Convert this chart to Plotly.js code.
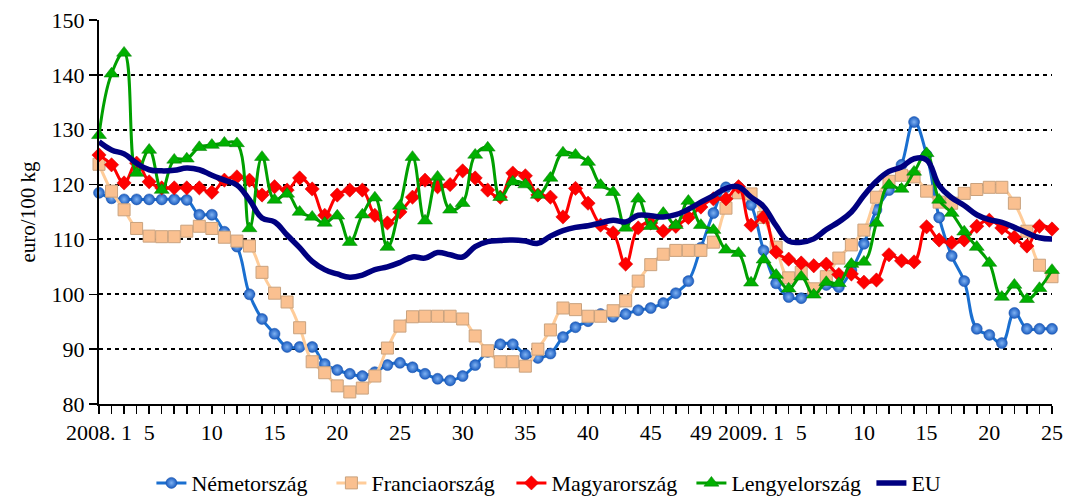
<!DOCTYPE html>
<html>
<head>
<meta charset="utf-8">
<script src="https://cdn.plot.ly/plotly-3.0.1.min.js"></script>
<style>
html,body{margin:0;padding:0;background:#fff;}
#chart{width:1072px;height:497px;}
</style>
</head>
<body>
<div id="chart"></div>
<script>
// Week labels: 2008 week 1..52, 2009 week 1..25 (blank = unlabeled week)
const weekLabels = [
 "2008. 1","","","","5","","","","","10","","","","","15","","","","","20",
 "","","","","25","","","","","30","","","","","35","","","","","40",
 "","","","","45","","","","49","","","",
 "2009. 1","","","","5","","","","","10","","","","","15","","","","","20",
 "","","","","25"
];

const nemetorszag = [
 118.5,117.5,117.3,117.3,117.3,117.3,117.3,117.2,114.5,114.5,
 111.4,108.7,100.0,95.5,92.8,90.4,90.4,90.4,87.3,86.2,
 85.5,85.1,85.8,87.1,87.5,86.7,85.5,84.6,84.3,85.1,
 87.1,89.5,90.9,90.9,89.0,88.4,89.2,92.2,94.0,95.1,
 96.4,95.9,96.4,97.1,97.5,98.4,100.2,102.4,108.5,114.8,
 119.5,119.5,116.3,108.0,102.0,99.5,99.3,100.8,101.7,101.3,
 104.4,109.2,115.4,119.0,123.6,131.4,125.4,114.0,107.0,102.4,
 93.7,92.6,91.1,96.6,93.7,93.7,93.7
];

const franciaorszag = [
 123.7,118.8,115.4,112.0,110.6,110.5,110.5,111.5,112.4,112.0,
 110.4,109.7,108.8,104.0,100.2,98.6,93.9,87.7,85.7,83.3,
 82.2,82.9,85.1,90.2,94.2,95.9,96.0,96.0,96.0,95.5,
 92.4,89.7,87.7,87.7,86.9,90.0,93.5,97.5,97.2,96.0,
 96.0,97.0,98.8,102.4,105.4,107.3,108.0,108.0,108.0,109.5,
 115.7,118.5,118.3,114.0,108.6,103.0,104.0,101.0,103.2,106.6,
 109.0,111.7,117.7,120.6,121.7,121.4,118.8,116.8,116.6,118.4,
 119.1,119.5,119.5,116.6,111.5,105.3,103.2
];

const magyarorszag = [
 125.4,123.6,120.3,123.9,120.5,119.4,119.4,119.4,119.4,118.6,
 120.8,121.4,120.8,118.1,119.6,119.0,121.2,119.2,114.4,118.1,
 119.0,119.0,114.4,113.0,115.0,117.7,120.8,119.6,120.0,122.5,
 121.2,119.0,117.7,122.1,121.6,118.1,117.7,114.1,119.3,116.6,
 112.6,111.2,105.5,112.1,113.0,111.5,112.4,114.0,115.9,117.4,
 117.4,119.6,112.6,114.1,107.7,106.4,105.7,105.2,105.5,103.6,
 103.7,102.2,102.6,107.2,106.1,105.9,112.3,109.9,109.4,109.9,
 112.4,113.5,112.1,110.4,108.8,112.4,111.9
];

const lengyelorszag = [
 129.0,140.2,144.0,122.1,126.3,119.0,124.5,124.7,126.8,127.2,
 127.6,127.5,112.0,125.0,117.2,118.3,115.0,114.1,113.0,114.3,
 109.5,114.5,117.6,108.6,116.1,125.0,113.4,121.4,115.4,116.6,
 125.4,126.7,117.7,120.5,120.0,118.1,121.2,125.8,125.4,124.1,
 119.9,118.6,112.1,117.4,112.4,114.8,112.6,117.0,112.6,111.7,
 108.1,107.5,102.1,106.3,103.5,101.0,103.2,99.9,102.2,102.0,
 105.5,105.9,113.0,119.9,119.2,122.3,125.7,117.2,114.8,111.4,
 108.6,105.7,99.5,101.7,99.1,101.1,104.4
];

const eu = [
 127.8,126.3,125.6,123.9,122.7,122.5,122.6,123.0,122.7,121.7,
 120.8,119.9,117.2,113.9,113.2,110.8,108.5,106.0,104.5,103.7,
 103.1,103.5,104.5,105.0,105.8,106.8,106.6,107.6,107.2,106.8,
 108.7,109.6,109.8,109.9,109.7,109.3,110.6,111.6,112.2,112.5,
 113.0,113.5,113.2,114.4,114.3,114.1,114.5,115.5,116.8,118.0,
 119.3,119.6,117.7,116.0,112.5,109.7,109.5,110.1,111.8,113.2,
 115.0,118.0,120.6,122.4,123.2,124.7,124.5,119.8,117.6,116.2,
 114.5,113.6,113.1,112.2,111.2,110.3,110.1
];

const seriesNames = ["Németország","Franciaország","Magyarország","Lengyelország","EU"];
const yTitle = "euro/100 kg";

const xIdx = weekLabels.map((_, i) => i);
const FONT = '"Liberation Serif", "DejaVu Serif", serif';
const SMOOTH = 1.2;

const traces = [
 {
  x: xIdx, y: nemetorszag, name: seriesNames[0], type: 'scatter', mode: 'lines+markers',
  line: {color: '#1A6FD0', width: 3, shape: 'spline', smoothing: SMOOTH},
  marker: {symbol: 'circle', size: 11, color: '#1A5CC0',
           gradient: {type: 'radial', color: '#7FB2F2'},
           line: {color: '#1850A8', width: 0.5}},
  cliponaxis: false
 },
 {
  x: xIdx, y: franciaorszag, name: seriesNames[1], type: 'scatter', mode: 'lines+markers',
  line: {color: '#FFCC99', width: 3, shape: 'spline', smoothing: SMOOTH},
  marker: {symbol: 'square', size: 12, color: '#FAC090',
           line: {color: '#C9A27E', width: 1}},
  cliponaxis: false
 },
 {
  x: xIdx, y: magyarorszag, name: seriesNames[2], type: 'scatter', mode: 'lines+markers',
  line: {color: '#FF0000', width: 3, shape: 'spline', smoothing: SMOOTH},
  marker: {symbol: 'diamond', size: 11, color: '#FF0000',
           line: {color: '#D00000', width: 0.5}},
  cliponaxis: false
 },
 {
  x: xIdx, y: lengyelorszag, name: seriesNames[3], type: 'scatter', mode: 'lines+markers',
  line: {color: '#00A000', width: 3, shape: 'spline', smoothing: SMOOTH},
  marker: {symbol: 'triangle-up', size: 13, color: '#00B000',
           line: {color: '#007A00', width: 0.5}},
  cliponaxis: false
 },
 {
  x: xIdx, y: eu, name: seriesNames[4], type: 'scatter', mode: 'lines',
  line: {color: '#000080', width: 5.5, shape: 'spline', smoothing: SMOOTH},
  cliponaxis: false
 }
];

const layout = {
 width: 1072, height: 497,
 margin: {l: 99, r: 20, t: 20, b: 93, autoexpand: false},
 paper_bgcolor: '#ffffff', plot_bgcolor: '#ffffff',
 font: {family: FONT, color: '#000', size: 22},
 showlegend: true,
 legend: {
  orientation: 'h', x: 0.055, xanchor: 'left',
  yref: 'container', y: 0.028, yanchor: 'middle',
  font: {family: FONT, size: 22, color: '#000'},
  itemwidth: 30, traceorder: 'normal',
  entrywidth: 135, entrywidthmode: 'pixels'
 },
 xaxis: {
  range: [0, 76], tickmode: 'array', tickvals: xIdx, ticktext: weekLabels,
  ticks: 'outside', ticklen: 8, tickwidth: 1.5, tickcolor: '#000',
  showline: true, linecolor: '#000', linewidth: 2,
  showgrid: false, zeroline: false, tickangle: 0,
  tickfont: {family: FONT, size: 22, color: '#000'}
 },
 yaxis: {
  range: [80, 150], dtick: 10, tick0: 80,
  ticks: 'outside', ticklen: 8, tickwidth: 1.5, tickcolor: '#000',
  showline: true, linecolor: '#000', linewidth: 2,
  showgrid: true, gridcolor: '#000', gridwidth: 2, griddash: '4px,4px',
  zeroline: false,
  tickfont: {family: FONT, size: 22, color: '#000'},
  title: {text: yTitle, font: {family: FONT, size: 21, color: '#000'}, standoff: 10}
 }
};

Plotly.newPlot('chart', traces, layout, {displayModeBar: false, staticPlot: true});
</script>
</body>
</html>
